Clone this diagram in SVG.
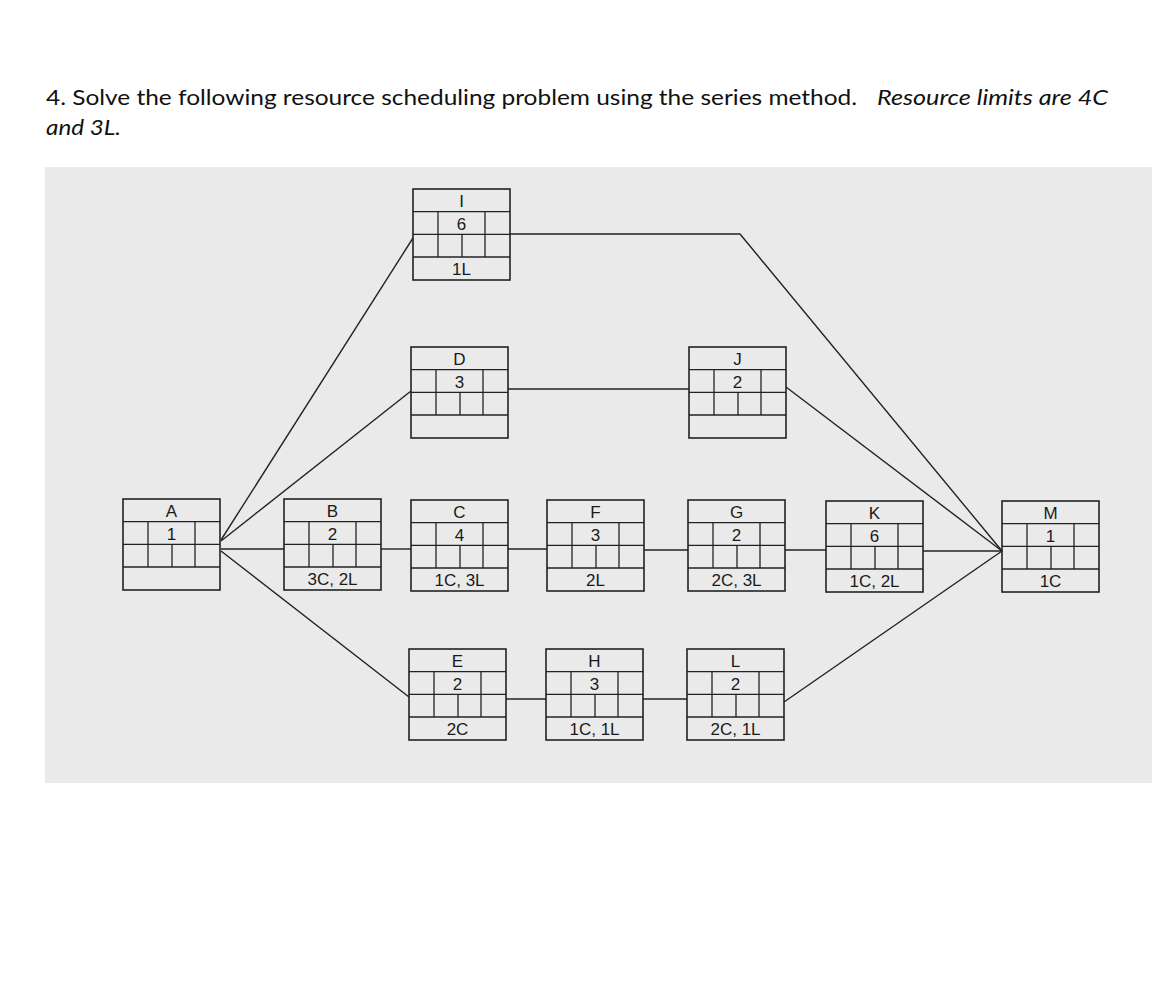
<svg xmlns="http://www.w3.org/2000/svg" width="1170" height="983" viewBox="0 0 1170 983">
<style>
.title{font-family:"Lato","Open Sans",sans-serif;font-size:21px;fill:#111}
.it{font-style:italic}
.box{fill:none;stroke:#222;stroke-width:1.6}
.in{stroke:#222;stroke-width:1.3}
.lbl{font-family:"Liberation Sans",Arial,sans-serif;font-size:17px;fill:#1a1a1a;text-anchor:middle}
.con{fill:none;stroke:#222;stroke-width:1.4}
</style>
<defs>
<g id="grid">
<rect class="box" x="0" y="0" width="97" height="91"/>
<line class="in" x1="0" y1="22.7" x2="97" y2="22.7"/>
<line class="in" x1="0" y1="45.3" x2="97" y2="45.3"/>
<line class="in" x1="0" y1="68" x2="97" y2="68"/>
<line class="in" x1="25" y1="22.7" x2="25" y2="68"/>
<line class="in" x1="72" y1="22.7" x2="72" y2="68"/>
<line class="in" x1="49" y1="45.3" x2="49" y2="68"/>
</g>
</defs>
<rect width="1170" height="983" fill="#ffffff"/>
<rect x="45" y="167" width="1107" height="616" fill="#eaeaea"/>
<text class="title" y="105"><tspan x="46" textLength="811" lengthAdjust="spacingAndGlyphs">4. Solve the following resource scheduling problem using the series method.</tspan><tspan class="it" x="877" textLength="231" lengthAdjust="spacingAndGlyphs">Resource limits are 4C</tspan></text>
<text class="title it" x="46" y="135" textLength="75" lengthAdjust="spacingAndGlyphs">and 3L.</text>
<g id="connectors">
<line class="con" x1="221" y1="540" x2="413" y2="238"/>
<line class="con" x1="221" y1="541" x2="411" y2="391"/>
<line class="con" x1="221" y1="549" x2="284" y2="549"/>
<line class="con" x1="221" y1="551" x2="409" y2="697"/>
<line class="con" x1="381" y1="549" x2="411" y2="549"/>
<line class="con" x1="508" y1="549" x2="547" y2="549"/>
<line class="con" x1="644" y1="550" x2="688" y2="550"/>
<line class="con" x1="785" y1="550" x2="826" y2="550"/>
<line class="con" x1="923" y1="551" x2="1002" y2="551"/>
<polyline class="con" points="510,234 740,234 1002,551"/>
<line class="con" x1="508" y1="389" x2="689" y2="389"/>
<line class="con" x1="786" y1="387" x2="1002" y2="551"/>
<line class="con" x1="506" y1="699" x2="546" y2="699"/>
<line class="con" x1="643" y1="699" x2="687" y2="699"/>
<line class="con" x1="784" y1="702" x2="1002" y2="551"/>
</g>
<g id="node-A" transform="translate(123,499)"><use href="#grid"/><text class="lbl" x="48.5" y="18">A</text><text class="lbl" x="48.5" y="40.5">1</text></g>
<g id="node-B" transform="translate(284,499)"><use href="#grid"/><text class="lbl" x="48.5" y="18">B</text><text class="lbl" x="48.5" y="40.5">2</text><text class="lbl" x="48.5" y="86">3C, 2L</text></g>
<g id="node-C" transform="translate(411,500)"><use href="#grid"/><text class="lbl" x="48.5" y="18">C</text><text class="lbl" x="48.5" y="40.5">4</text><text class="lbl" x="48.5" y="86">1C, 3L</text></g>
<g id="node-F" transform="translate(547,500)"><use href="#grid"/><text class="lbl" x="48.5" y="18">F</text><text class="lbl" x="48.5" y="40.5">3</text><text class="lbl" x="48.5" y="86">2L</text></g>
<g id="node-G" transform="translate(688,500)"><use href="#grid"/><text class="lbl" x="48.5" y="18">G</text><text class="lbl" x="48.5" y="40.5">2</text><text class="lbl" x="48.5" y="86">2C, 3L</text></g>
<g id="node-K" transform="translate(826,501)"><use href="#grid"/><text class="lbl" x="48.5" y="18">K</text><text class="lbl" x="48.5" y="40.5">6</text><text class="lbl" x="48.5" y="86">1C, 2L</text></g>
<g id="node-M" transform="translate(1002,501)"><use href="#grid"/><text class="lbl" x="48.5" y="18">M</text><text class="lbl" x="48.5" y="40.5">1</text><text class="lbl" x="48.5" y="86">1C</text></g>
<g id="node-I" transform="translate(413,189)"><use href="#grid"/><text class="lbl" x="48.5" y="18">I</text><text class="lbl" x="48.5" y="40.5">6</text><text class="lbl" x="48.5" y="86">1L</text></g>
<g id="node-D" transform="translate(411,347)"><use href="#grid"/><text class="lbl" x="48.5" y="18">D</text><text class="lbl" x="48.5" y="40.5">3</text></g>
<g id="node-J" transform="translate(689,347)"><use href="#grid"/><text class="lbl" x="48.5" y="18">J</text><text class="lbl" x="48.5" y="40.5">2</text></g>
<g id="node-E" transform="translate(409,649)"><use href="#grid"/><text class="lbl" x="48.5" y="18">E</text><text class="lbl" x="48.5" y="40.5">2</text><text class="lbl" x="48.5" y="86">2C</text></g>
<g id="node-H" transform="translate(546,649)"><use href="#grid"/><text class="lbl" x="48.5" y="18">H</text><text class="lbl" x="48.5" y="40.5">3</text><text class="lbl" x="48.5" y="86">1C, 1L</text></g>
<g id="node-L" transform="translate(687,649)"><use href="#grid"/><text class="lbl" x="48.5" y="18">L</text><text class="lbl" x="48.5" y="40.5">2</text><text class="lbl" x="48.5" y="86">2C, 1L</text></g>
</svg>
